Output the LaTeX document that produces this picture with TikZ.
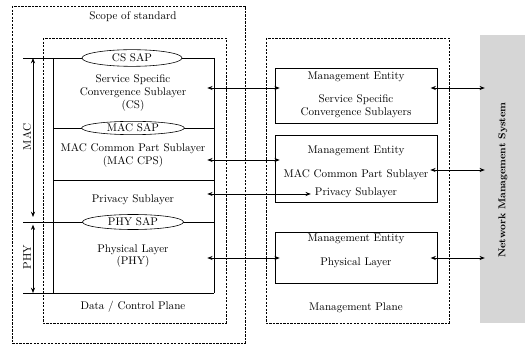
\documentclass[tikz,border=0pt]{standalone}
\usepackage{tikz}
\usetikzlibrary{positioning,arrows.meta,shapes.geometric}
\tikzset{
  planebox/.style={draw,line width=0.5pt,dash pattern=on 2pt off 1pt},
  layerline/.style={line width=0.5pt},
  sap/.style={draw,ellipse,fill=white,line width=0.5pt,inner sep=0pt,font=\fontsize{9.5}{11}\selectfont},
  mebox/.style={draw,line width=0.5pt,minimum width=4.86cm},
  lbl/.style={align=center,font=\fontsize{9.5}{11}\selectfont},
  biarrow/.style={{Stealth[length=4.5pt,width=3.5pt]}-{Stealth[length=4.5pt,width=3.5pt]},line width=0.6pt},
  crossarrow/.style={biarrow,shorten <=-2mm,shorten >=-1.5mm},
  nms/.style={fill=black!16,minimum width=1.35cm,minimum height=8.64cm,inner sep=0pt}
}
\begin{document}
\begin{tikzpicture}[x=0.03cm,y=-0.03cm]
\useasboundingbox (0,0) rectangle (527,345);
% Scope
\draw[planebox] (12,6) rectangle (245,343); % scope of standard
\node[lbl] (scope) at (133,17) {Scope of standard};
\draw[planebox] (43,38) rectangle (226,323); % data / control plane
\node[lbl] (dcp) at (133,307) {Data / Control Plane};
% Stack
\draw[layerline] (23,58) -- (214,58); % cs sap line
\draw[layerline] (53,58) -- (53,293); % stack left line
\draw[layerline] (214,58) -- (214,293); % stack right line
\draw[layerline] (53,128) -- (214,128); % mac sap line
\draw[layerline] (53,180) -- (214,180); % privacy line
\draw[layerline] (23,222) -- (214,222); % phy sap line
\draw[layerline] (23,293) -- (214,293); % bottom line
\node[sap,minimum width=3cm,minimum height=0.5cm] (cssap) at (132,58) {CS SAP};
\node[sap,minimum width=3.08cm,minimum height=0.4cm] (macsap) at (133,128) {MAC SAP};
\node[sap,minimum width=3.03cm,minimum height=0.45cm] (physap) at (133,222) {PHY SAP};
\node[lbl] (cs) at (133,93) {Service Specific\\Convergence Sublayer\\(CS)};
\node[lbl] (cps) at (133,155) {MAC Common Part Sublayer\\(MAC CPS)};
\node[lbl] (priv) at (133,200) {Privacy Sublayer};
\node[lbl] (phy) at (133,256) {Physical Layer\\(PHY)};
% MAC / PHY
\coordinate (macT) at (33,58);
\coordinate (macB) at (33,222);
\coordinate (phyB) at (33,293);
\draw[biarrow,shorten >=1.5mm] (macT) -- (macB);
\draw[biarrow,shorten <=0.8mm] (macB) -- (phyB);
\node[lbl,rotate=90] (mac) at (27,137) {MAC};
\node[lbl,rotate=90] (phyl) at (27,257) {PHY};
% Management plane
\draw[planebox] (266,38) rectangle (449,323); % management plane
\node[lbl] (mp) at (356,308) {Management Plane};
\node[mebox,minimum height=1.65cm] (me1) at (356,95.5) {};
\node[mebox,minimum height=2.01cm] (me2) at (356,168.5) {};
\node[mebox,minimum height=1.53cm] (me3) at (356,257.5) {};
\node[lbl] (me1a) at (356,77) {Management Entity};
\node[lbl] (me1b) at (356,106) {Service Specific\\Convergence Sublayers};
\node[lbl] (me2a) at (356,151) {Management Entity};
\node[lbl] (me2b) at (356,175) {MAC Common Part Sublayer};
\node[lbl] (me2c) at (356,193) {Privacy Sublayer};
\node[lbl] (me3a) at (356,239) {Management Entity};
\node[lbl] (me3b) at (356,263) {Physical Layer};
% NMS
\node[nms] (nms) at (502.5,179) {};
\node[rotate=90,font=\bfseries\fontsize{8.5}{10}\selectfont] (nmst) at (503,180) {Network Management System};
% Arrows
\coordinate (csE) at (214,88);
\coordinate (cpsE) at (214,160);
\coordinate (privE) at (214,194);
\coordinate (phyE) at (214,258);
\coordinate (cpsR) at (437,170);
\draw[crossarrow] (csE) -- (csE -| me1.west);
\draw[crossarrow] (cpsE) -- (cpsE -| me2.west);
\draw[crossarrow,shorten >=0pt] (privE) -- (privE -| me2c.west);
\draw[crossarrow] (phyE) -- (phyE -| me3.west);
\draw[crossarrow] (me1.east |- csE) -- (nms.west |- csE);
\draw[crossarrow] (cpsR) -- (nms.west |- cpsR);
\draw[crossarrow] (me3.east |- phyE) -- (nms.west |- phyE);
\end{tikzpicture}
\end{document}
